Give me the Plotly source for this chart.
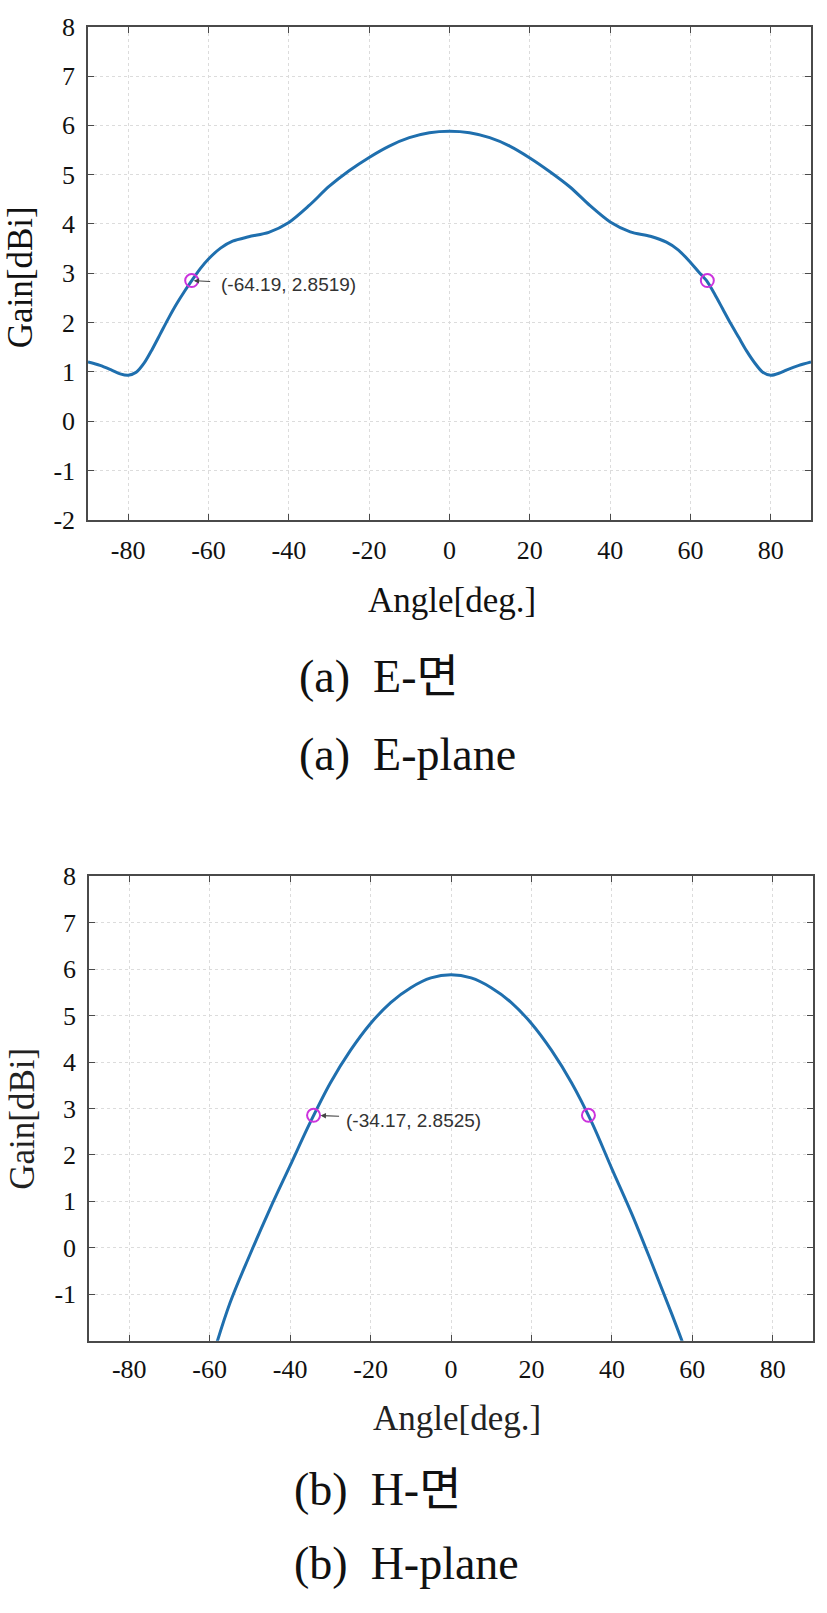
import plotly.graph_objects as go

# ---------------- data ----------------
e_angle = [-90, -87, -84, -82, -80, -78, -76, -74, -72, -70, -68, -66, -64, -62, -60, -57, -54, -50,
           -45, -40, -35, -30, -25, -20, -15, -10, -5, 0, 5, 10, 15, 20, 25, 30, 35, 40, 45,
           50, 54, 57, 60, 62, 64, 66, 68, 70, 72, 74, 76, 78, 80, 82, 84, 87, 90]
e_gain = [1.20, 1.13, 1.03, 0.96, 0.93, 0.99, 1.18, 1.46, 1.77, 2.08, 2.37, 2.63, 2.87, 3.10, 3.29,
          3.51, 3.65, 3.74, 3.83, 4.03, 4.37, 4.76, 5.08, 5.35, 5.58, 5.75, 5.85, 5.88, 5.85, 5.75,
          5.58, 5.34, 5.06, 4.75, 4.37, 4.04, 3.84, 3.75, 3.63, 3.47, 3.22, 3.03, 2.85, 2.58, 2.28,
          1.98, 1.70, 1.42, 1.18, 0.99, 0.93, 0.97, 1.04, 1.13, 1.20]

h_angle = [-60, -55, -50, -45, -40, -35, -30, -25, -20, -15, -10, -5, 0,
           5, 10, 15, 20, 25, 30, 35, 40, 45, 50, 55, 60]
h_gain = [-2.55, -1.2, -0.15, 0.84, 1.77, 2.70, 3.55, 4.25, 4.83, 5.28, 5.60, 5.81, 5.88,
          5.81, 5.60, 5.28, 4.83, 4.25, 3.55, 2.70, 1.70, 0.72, -0.35, -1.45, -2.6]

e_marks_x = [-64.19, 64.19]
e_marks_y = [2.8519, 2.8519]
h_marks_x = [-34.17, 34.17]
h_marks_y = [2.8525, 2.8525]

x_ticks = [-80, -60, -40, -20, 0, 20, 40, 60, 80]
x_tick_text = ["-80", "-60", "-40", "-20", "0", "20", "40", "60", "80"]
e_y_ticks = [-2, -1, 0, 1, 2, 3, 4, 5, 6, 7, 8]
e_y_text = ["-2", "-1", "0", "1", "2", "3", "4", "5", "6", "7", "8"]
h_y_ticks = [-1, 0, 1, 2, 3, 4, 5, 6, 7, 8]
h_y_text = ["-1", "0", "1", "2", "3", "4", "5", "6", "7", "8"]

captions = ["(a)  E-면", "(a)  E-plane", "(b)  H-면", "(b)  H-plane"]
x_title = "Angle[deg.]"
y_title = "Gain[dBi]"

# ---------------- figure ----------------
W, H = 827, 1613
LINE = "#1f6fae"
MARK = "#cc33dd"
SERIF = "Liberation Serif"
CAPFONT = "Liberation Serif, Noto Sans CJK KR"
SANS = "Liberation Sans"

fig = go.Figure()
fig.add_trace(go.Scatter(x=e_angle, y=e_gain, mode="lines",
                         line=dict(color=LINE, width=3, shape="spline", smoothing=0.8),
                         xaxis="x", yaxis="y", showlegend=False, hoverinfo="skip"))
fig.add_trace(go.Scatter(x=e_marks_x, y=e_marks_y, mode="markers",
                         marker=dict(symbol="circle-open", size=13, color=MARK, line=dict(width=2, color=MARK)),
                         xaxis="x", yaxis="y", showlegend=False))
fig.add_trace(go.Scatter(x=h_angle, y=h_gain, mode="lines",
                         line=dict(color=LINE, width=3, shape="spline", smoothing=1.0),
                         xaxis="x2", yaxis="y2", showlegend=False, hoverinfo="skip"))
fig.add_trace(go.Scatter(x=h_marks_x, y=h_marks_y, mode="markers",
                         marker=dict(symbol="circle-open", size=13, color=MARK, line=dict(width=2, color=MARK)),
                         xaxis="x2", yaxis="y2", showlegend=False))


def px_x(p):
    return p / W


def px_y(p):
    return 1 - p / H


axis_common = dict(
    showline=True, linecolor="#4a4a4a", linewidth=1.5, mirror="ticks",
    ticks="inside", ticklen=6, tickcolor="#4a4a4a", tickwidth=1.2,
    showgrid=True, gridcolor="#dcdcdc", griddash="dot", gridwidth=1,
    zeroline=False, tickfont=dict(family=SERIF, size=26, color="#111"),
)

fig.update_layout(
    width=W, height=H, margin=dict(l=0, r=0, t=0, b=0),
    paper_bgcolor="white", plot_bgcolor="white",
    xaxis=dict(domain=[px_x(88), px_x(811)], range=[-90, 90], tickvals=x_ticks, ticktext=x_tick_text,
               anchor="y", ticklabelstandoff=6, **axis_common),
    yaxis=dict(domain=[px_y(515), px_y(13)], range=[-2, 8], tickvals=e_y_ticks, ticktext=e_y_text,
               anchor="x", ticklabelstandoff=6, **axis_common),
    xaxis2=dict(domain=[px_x(89), px_x(813)], range=[-90, 90], tickvals=x_ticks, ticktext=x_tick_text,
                anchor="y2", ticklabelstandoff=4, **axis_common),
    yaxis2=dict(domain=[px_y(1351), px_y(878)], range=[-2, 8], tickvals=h_y_ticks, ticktext=h_y_text,
                anchor="x2", ticklabelstandoff=6, **axis_common),
)

ann = []
# axis titles
ann.append(dict(text=x_title, x=px_x(452), y=px_y(597), xref="paper", yref="paper", showarrow=False,
                xanchor="center", yanchor="middle", font=dict(family=SERIF, size=35, color="#111")))
ann.append(dict(text=x_title, x=px_x(457), y=px_y(1430), xref="paper", yref="paper", showarrow=False,
                xanchor="center", yanchor="middle", font=dict(family=SERIF, size=35, color="#222")))
ann.append(dict(text=y_title, x=px_x(20), y=px_y(268), xref="paper", yref="paper", showarrow=False,
                textangle=-90, xanchor="center", yanchor="middle", font=dict(family=SERIF, size=35, color="#111")))
ann.append(dict(text=y_title, x=px_x(23), y=px_y(1125), xref="paper", yref="paper", showarrow=False,
                textangle=-90, xanchor="center", yanchor="middle", font=dict(family=SERIF, size=35, color="#222")))
# captions
cap_pos = [(297, 675), (297, 754), (292, 1503), (292, 1578)]
for txt, (cx, cy) in zip(captions, cap_pos):
    ann.append(dict(text=txt, x=px_x(cx), y=px_y(cy), xref="paper", yref="paper", showarrow=False,
                    xanchor="left", yanchor="middle", font=dict(family=CAPFONT, size=46, color="#111")))

# data tips: arrow + label
tips = [("x", "y", e_marks_x[0], e_marks_y[0], 2, 20, 27, -4),
        ("x2", "y2", h_marks_x[0], h_marks_y[0], 7, 27, 30, -5)]
for xr, yr, tx, ty, head, tail, txs, tys in tips:
    ann.append(dict(text="", x=tx, y=ty, xref=xr, yref=yr, showarrow=True, ax=tail, ay=1,
                    axref="pixel", ayref="pixel", arrowhead=2, arrowsize=0.9, arrowwidth=1.2,
                    arrowcolor="#444", standoff=head))
    ann.append(dict(text="(%.2f, %.4f)" % (tx, ty), x=tx, y=ty, xref=xr, yref=yr, showarrow=False,
                    xanchor="left", yanchor="middle", xshift=txs, yshift=tys,
                    font=dict(family=SANS, size=19, color="#333")))
fig.update_layout(annotations=ann)

fig.write_html("out.html")
